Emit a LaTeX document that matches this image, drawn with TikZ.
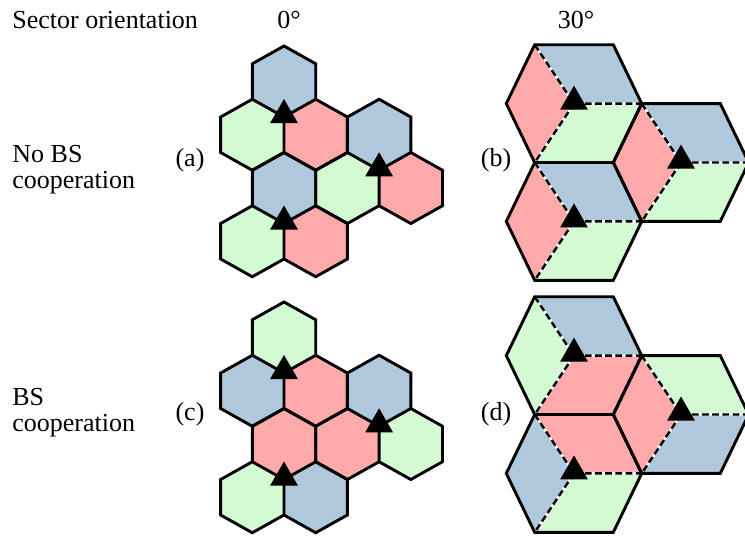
\documentclass[tikz,border=0pt]{standalone}
\usepackage{fontspec}
\setmainfont{Liberation Serif}
\usetikzlibrary{shapes.geometric}

\definecolor{sectblue}{RGB}{175,200,220}
\definecolor{sectred}{RGB}{255,170,170}
\definecolor{sectgreen}{RGB}{212,250,212}

\tikzstyle{cell}=[
	draw=black,
	line width=1.45pt,
	line join=miter
]
\tikzstyle{gap}=[
	draw=white,
	line width=1.2pt
]
\tikzstyle{divider}=[
	draw=black,
	line width=1.2pt,
	dash pattern=on 3.4pt off 1.7pt
]
\tikzstyle{bs}=[
	regular polygon,
	regular polygon sides=3,
	fill=black,
	inner sep=0pt,
	minimum size=16pt,
	yshift=1pt
]
\tikzstyle{txt}=[
	inner sep=0pt,
	font=\fontsize{13}{13}\selectfont
]

% one hexagon (pointy top) around the current point
\newcommand{\hexpath}{+(0,-35.5) -- +(31.7,-17.75) -- +(31.7,17.75) -- +(0,35.5) -- +(-31.7,17.75) -- +(-31.7,-17.75) -- cycle}

\begin{document}
\begin{tikzpicture}[x=0.5pt,y=-0.5pt]
\useasboundingbox (0,0) rectangle (745,536);
\clip (0,0) rectangle (745,536);

% base stations on hexagon corners (0 deg)
\coordinate (a1) at (284,117);
\coordinate (a2) at (379.1,170.25);
\coordinate (a3) at (284,223.5);
\coordinate (c1) at (284,373);
\coordinate (c2) at (379.1,426.25);
\coordinate (c3) at (284,479.5);
% base stations in hexagon centres (30 deg)
\coordinate (b1) at (574,103.6);
\coordinate (b2) at (681,162.5);
\coordinate (b3) at (574,221.4);
\coordinate (d1) at (574,355.6);
\coordinate (d2) at (681,414.5);
\coordinate (d3) at (574,473.4);

% cells: upper / lower left / lower right
\foreach \s/\up/\lo/\ro in {a1/sectblue/sectgreen/sectred,
	a2/sectblue/sectgreen/sectred,
	a3/sectblue/sectgreen/sectred,
	c1/sectgreen/sectblue/sectred,
	c2/sectblue/sectred/sectgreen,
	c3/sectred/sectgreen/sectblue}{
	\begin{scope}[shift={(\s)}]
		\fill[\up] (0,-35.5) \hexpath;
		\fill[\lo] (-31.7,17.75) \hexpath;
		\fill[\ro] (31.7,17.75) \hexpath;
	\end{scope}
}
\foreach \s in {a1,a2,a3,c1,c2,c3}{
	\begin{scope}[shift={(\s)}]
		\draw[cell] (0,-35.5) \hexpath (-31.7,17.75) \hexpath (31.7,17.75) \hexpath;
	\end{scope}
}

% sectors: left / upper / lower
\foreach \s/\lf/\up/\lw in {b1/sectred/sectblue/sectgreen,
	b2/sectred/sectblue/sectgreen,
	b3/sectred/sectblue/sectgreen,
	d1/sectgreen/sectblue/sectred,
	d2/sectred/sectgreen/sectblue,
	d3/sectblue/sectred/sectgreen}{
	\begin{scope}[shift={(\s)}]
		\fill[\lf] (-67.7,0) -- (-39.3,-58.9) -- (0,0) -- (-39.3,58.9) -- cycle;
		\fill[\up] (-39.3,-58.9) -- (39.3,-58.9) -- (67.7,0) -- (0,0) -- cycle;
		\fill[\lw] (0,0) -- (67.7,0) -- (39.3,58.9) -- (-39.3,58.9) -- cycle;
	\end{scope}
}
\foreach \s in {b1,b2,b3,d1,d2,d3}{
	\begin{scope}[shift={(\s)}]
		\draw[gap] (-39.3,-58.9) -- (0,0) -- (67.7,0) (0,0) -- (-39.3,58.9);
		\draw[divider] (-39.3,-58.9) -- (0,0) -- (67.7,0) (0,0) -- (-39.3,58.9);
		\draw[cell] (-67.7,0) -- (-39.3,-58.9) -- (39.3,-58.9) -- (67.7,0)
			-- (39.3,58.9) -- (-39.3,58.9) -- cycle;
	\end{scope}
}

\foreach \s in {a1,a2,a3,b1,b2,b3,c1,c2,c3,d1,d2,d3}
	\node[bs] (bs-\s) at (\s) {};

\node[txt, anchor=base west] (title) at (12,28) {Sector orientation};
\node[txt, anchor=base] (deg0) at (289,28) {0°};
\node[txt, anchor=base] (deg30) at (576,28) {30°};
\node[txt, anchor=west, align=left] (nocoop) at (12,170) {No BS\\cooperation};
\node[txt, anchor=west, align=left] (coop) at (12,413) {BS\\cooperation};
\node[txt, anchor=base] (lbl-a) at (190,166) {(a)};
\node[txt, anchor=base] (lbl-b) at (496,166) {(b)};
\node[txt, anchor=base] (lbl-c) at (190,420) {(c)};
\node[txt, anchor=base] (lbl-d) at (496,420) {(d)};
\end{tikzpicture}
\end{document}
